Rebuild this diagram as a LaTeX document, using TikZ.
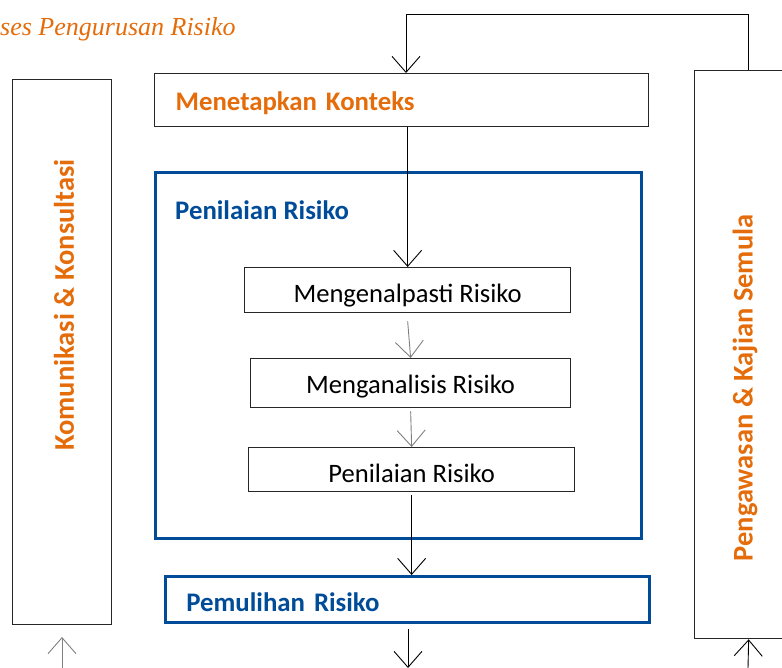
\documentclass[tikz,border=0pt]{standalone}
\usepackage{fontspec}
\setmainfont{Carlito}
\newfontfamily\titlefont{Liberation Serif}
\usetikzlibrary{arrows.meta,positioning}
\definecolor{riskorange}{RGB}{228,108,10}
\definecolor{riskblue}{RGB}{0,76,153}
\begin{document}
\begin{tikzpicture}
    [
      x=1pt, y=-1pt,
      box/.style = {draw=black!85, line width=1.3pt, inner sep=0pt},
      bluebox/.style = {draw=riskblue, line width=2.8pt, inner sep=0pt},
      steptext/.style = {font=\fontsize{26.6}{30}\selectfont, text depth=6pt},
      headtext/.style = {font=\fontsize{26.8}{30}\selectfont\bfseries},
      sidetext/.style = {font=\fontsize{28.5}{32}\selectfont\bfseries},
      flow/.style = {-{Straight Barb[length=16pt,width=28pt]}, line width=0.9pt},
    ]
    \useasboundingbox (0,0) rectangle (782,668);

    \node[anchor=base west, inner sep=0pt, text=riskorange,
      font=\fontsize{26}{30}\selectfont\titlefont\itshape] (title) at (0,36) {ses Pengurusan Risiko};

    \node[box, anchor=north west, minimum width=99pt, minimum height=545pt] (comm) at (12,79) {};
    \node[sidetext, rotate=90, text=riskorange] (commlbl) at (64,305) {Komunikasi \& Konsultasi};

    \node[box, anchor=north west, minimum width=108pt, minimum height=568pt] (monitor) at (694,70) {};
    \node[sidetext, rotate=90, text=riskorange] (monitorlbl) at (745,388) {Pengawasan \& Kajian Semula};

    \node[box, headtext, text=riskorange, anchor=north west, minimum height=53pt,
      inner xsep=21pt, text width=452pt, align=left, text height=26pt, text depth=6pt] (context) at (154,73) {Menetapkan Konteks};

    \node[bluebox, anchor=north west, minimum width=486pt, minimum height=366pt] (assess) at (154,171) {};
    \node[headtext, text=riskblue, anchor=west, inner sep=0pt] (assesslbl) at (175,210) {Penilaian Risiko};

    \node[box, steptext, anchor=north west, minimum width=326pt, minimum height=45pt, text height=30pt] (identify) at (244,267) {Mengenalpasti Risiko};
    \node[box, steptext, anchor=north west, minimum width=320pt, minimum height=49pt, text height=26pt] (analyse) at (250,358) {Menganalisis Risiko};
    \node[box, steptext, anchor=north west, minimum width=326pt, minimum height=44pt, text height=32pt] (evaluate) at (248,447) {Penilaian Risiko};

    \node[bluebox, headtext, text=riskblue, anchor=north west, minimum height=46pt,
      inner xsep=21pt, text width=442pt, align=left, text height=33pt, text depth=8pt] (treat) at (164,575) {Pemulihan Risiko};

    \coordinate (top) at (406,14);
    \coordinate (out) at (408,668);
    \coordinate (commin) at (62,668);
    \coordinate (commend) at (62,637);
    \coordinate (monin) at (748,668);

    \draw[flow] (monitor.north) |- (top) -- (top |- context.north);
    \draw[flow] (identify.north |- context.south) -- (identify.north);
    \draw[flow, gray] ([yshift=-8pt]identify.south) -- (analyse.north);
    \draw[flow, gray] ([yshift=-3pt]analyse.south) -- (evaluate.north);
    \draw[flow] ([yshift=-3pt]evaluate.south) -- (evaluate.south |- treat.north);
    \draw[flow] ([yshift=-5pt]treat.south -| out) -- (out);
    \draw[flow, gray] (commin) -- (commend);
    \draw[flow] (monin) -- (monitor.south);
\end{tikzpicture}
\end{document}
